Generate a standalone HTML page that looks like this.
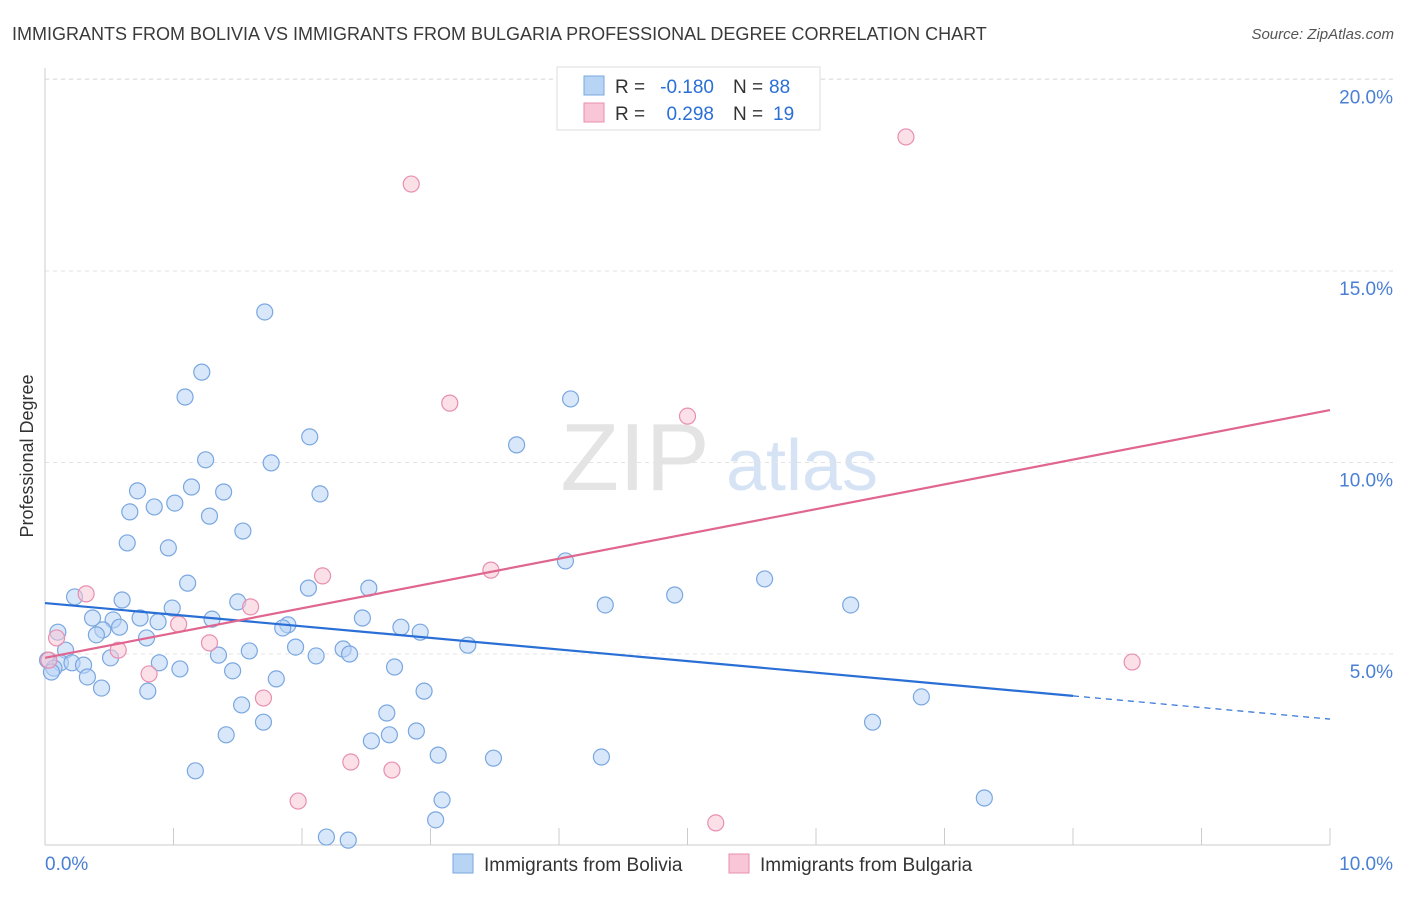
<!DOCTYPE html>
<html><head><meta charset="utf-8"><style>
body{margin:0;background:#fff;font-family:"Liberation Sans",sans-serif;}
svg text{font-family:"Liberation Sans",sans-serif;}
</style></head><body>
<svg width="1406" height="892" xmlns="http://www.w3.org/2000/svg">
<text x="12" y="40" font-size="18" fill="#3a3a3a">IMMIGRANTS FROM BOLIVIA VS IMMIGRANTS FROM BULGARIA PROFESSIONAL DEGREE CORRELATION CHART</text>
<text x="1394" y="39" font-size="15" fill="#555" text-anchor="end" font-style="italic">Source: ZipAtlas.com</text>
<text x="33" y="456" font-size="18" fill="#333" text-anchor="middle" transform="rotate(-90 33 456)">Professional Degree</text>
<g>
<text x="635" y="490" font-size="96" fill="#d9d9d9" text-anchor="middle" font-family="Liberation Serif" opacity="0.7">ZIP</text>
<text x="802" y="490" font-size="72" fill="#c4d8f2" text-anchor="middle" opacity="0.7">atlas</text>
</g>
<g id="grid"></g>
<g id="marks"></g>
<g>
<rect x="557" y="67" width="263" height="63" fill="#fff" stroke="#ddd"/>
<rect x="584" y="76" width="20" height="19" fill="#b8d4f5" stroke="#7aa7e0"/>
<rect x="584" y="103" width="20" height="19" fill="#f8c6d6" stroke="#e88fb0"/>
<text x="615" y="93" font-size="19" fill="#333">R =</text>
<text x="714" y="93" font-size="19" fill="#2a6fd6" text-anchor="end">-0.180</text>
<text x="733" y="93" font-size="19" fill="#333">N =</text>
<text x="769" y="93" font-size="19" fill="#2a6fd6">88</text>
<text x="615" y="120" font-size="19" fill="#333">R =</text>
<text x="714" y="120" font-size="19" fill="#2a6fd6" text-anchor="end">0.298</text>
<text x="733" y="120" font-size="19" fill="#333">N =</text>
<text x="773" y="120" font-size="19" fill="#2a6fd6">19</text>
</g>
<g>
<rect x="453" y="854" width="20" height="19" fill="#b8d4f5" stroke="#7aa7e0"/>
<text x="484" y="871" font-size="19" fill="#333">Immigrants from Bolivia</text>
<rect x="729" y="854" width="20" height="19" fill="#f8c6d6" stroke="#e88fb0"/>
<text x="760" y="871" font-size="19" fill="#333">Immigrants from Bulgaria</text>
</g>
</svg>
<script>
const blueX=[1.71,1.22,1.09,2.06,4.09,3.67,1.25,1.76,0.72,1.14,1.39,2.14,0.66,0.85,1.01,1.28,1.54,0.64,0.96,4.05,1.11,5.60,2.05,2.52,0.23,0.60,1.50,4.36,4.90,6.27,0.99,0.37,0.53,0.74,0.88,1.30,2.47,1.89,0.58,0.45,1.85,0.10,0.40,0.79,2.77,2.92,3.29,1.95,2.32,0.16,1.35,1.59,2.11,2.37,0.51,0.89,0.02,0.12,0.21,0.30,0.07,1.05,1.46,2.72,0.05,0.33,1.80,0.44,0.80,2.95,6.82,1.53,2.66,1.70,6.44,2.89,1.41,2.68,2.54,3.06,3.49,4.33,1.17,3.09,7.31,3.04,2.19,2.36];
const blueY=[13.93,12.36,11.71,10.67,11.66,10.46,10.07,9.99,9.26,9.36,9.23,9.18,8.71,8.84,8.94,8.60,8.21,7.90,7.77,7.43,6.85,6.96,6.72,6.72,6.49,6.41,6.36,6.28,6.54,6.28,6.20,5.94,5.89,5.94,5.84,5.91,5.94,5.76,5.70,5.63,5.68,5.57,5.50,5.42,5.70,5.57,5.23,5.18,5.13,5.10,4.97,5.08,4.95,5.00,4.90,4.77,4.84,4.77,4.77,4.71,4.63,4.61,4.56,4.66,4.53,4.40,4.35,4.11,4.03,4.03,3.88,3.67,3.46,3.22,3.22,2.99,2.89,2.89,2.73,2.36,2.28,2.31,1.95,1.19,1.24,0.67,0.22,0.14];
const pinkX=[2.85,6.70,3.15,5.00,3.47,2.16,0.32,1.60,1.04,1.28,0.57,0.09,0.03,0.81,1.70,2.38,2.70,1.97,5.22,8.46];
const pinkY=[17.27,18.50,11.55,11.21,7.19,7.04,6.57,6.23,5.78,5.29,5.10,5.42,4.84,4.48,3.85,2.18,1.97,1.16,0.59,4.79];
const blueLine=[6.33,3.30], blueSolidEnd=8.0;
const pinkLine=[4.90,11.37];
const yTicks=[5,10,15,20];
const yTickLabels=["5.0%","10.0%","15.0%","20.0%"];
const xTicks=[0,1,2,3,4,5,6,7,8,9,10];
const xs=v=>45+v*128.5, ys=v=>845.5-v*38.3;
const NS="http://www.w3.org/2000/svg";
function mk(t,a,p){const e=document.createElementNS(NS,t);for(const k in a)e.setAttribute(k,a[k]);p.appendChild(e);return e;}
const g=document.getElementById('grid'), m=document.getElementById('marks');
yTicks.forEach((t,i)=>{
 const l=mk('line',{x1:45,x2:1394,y1:ys(t),y2:ys(t),stroke:'#e3e3e3','stroke-dasharray':'4,4'},g);
 
 
 const tx=mk('text',{x:1393,y:ys(t)+24,'font-size':19,fill:'#4a7fd4','text-anchor':'end'},g);
 tx.textContent=yTickLabels[i];
 
 
});
const topGrid=mk('line',{x1:45,x2:1394,y1:79,y2:79,stroke:'#e3e3e3','stroke-dasharray':'4,4'},g);


const ya=mk('line',{x1:45,x2:45,y1:68,y2:845,stroke:'#ccc'},g);


const xa=mk('line',{x1:45,x2:1330,y1:845,y2:845,stroke:'#ccc'},g);


xTicks.forEach(t=>{
 const l=mk('line',{x1:xs(t),x2:xs(t),y1:828,y2:845,stroke:'#ccc'},g);
 
 
});
[["0.0%",45,'start'],["10.0%",1393,'end']].forEach(d=>{
 const tx=mk('text',{x:d[1],y:870,'font-size':19,fill:'#4a7fd4','text-anchor':d[2]},g);
 tx.textContent=d[0];
 
 
});
blueX.forEach((x,i)=>{
 const c=mk('circle',{cx:xs(x),cy:ys(blueY[i]),r:8,fill:'#b8d4f5','fill-opacity':0.55,stroke:'#7aa7e0','stroke-width':1.2},m);
 
 
});
pinkX.forEach((x,i)=>{
 const c=mk('circle',{cx:xs(x),cy:ys(pinkY[i]),r:8,fill:'#f8c6d6','fill-opacity':0.55,stroke:'#e88fb0','stroke-width':1.2},m);
 
 
});
const bf=x=>blueLine[0]+(blueLine[1]-blueLine[0])*x/10;
const b1=mk('line',{x1:xs(0),y1:ys(bf(0)),x2:xs(blueSolidEnd),y2:ys(bf(blueSolidEnd)),stroke:'#2a6fd6','stroke-width':2.2},m);


const b2=mk('line',{x1:xs(blueSolidEnd),y1:ys(bf(blueSolidEnd)),x2:xs(10),y2:ys(bf(10)),stroke:'#2a6fd6','stroke-width':1.2,'stroke-dasharray':'6,5'},m);


const p1=mk('line',{x1:xs(0),y1:ys(pinkLine[0]),x2:xs(10),y2:ys(pinkLine[1]),stroke:'#e0668f','stroke-width':2.2},m);


</script>
</body></html>
